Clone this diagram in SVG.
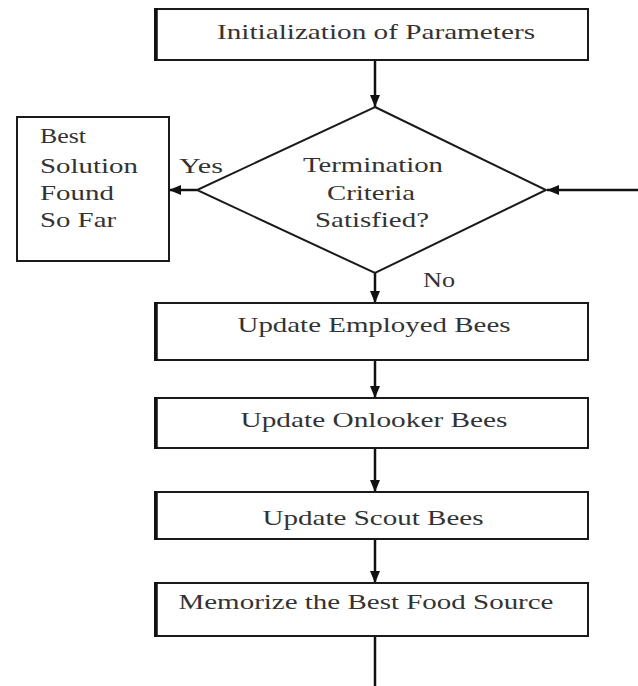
<svg xmlns="http://www.w3.org/2000/svg" width="638" height="686" viewBox="0 0 638 686">
<style>
.box{fill:#fff;stroke:#1a1a1a;stroke-width:2}
.edge{stroke:#111;stroke-width:3.5}
.t{font-family:"Liberation Serif","Times New Roman",serif;fill:#333;font-size:22px}
.c{text-anchor:middle}
.ln{stroke:#111;stroke-width:2.5;fill:none}
</style>
<defs>
<marker id="ah" viewBox="0 0 12 10" refX="12" refY="5" markerWidth="12" markerHeight="10" markerUnits="userSpaceOnUse" orient="auto">
<path d="M0,0 L12,5 L0,10 z" fill="#111"/>
</marker>
</defs>
<rect width="638" height="686" fill="#fff"/>
<g id="connectors">
<line class="ln" x1="375" y1="60" x2="375" y2="107" marker-end="url(#ah)"/>
<line class="ln" x1="197" y1="190" x2="169" y2="190" marker-end="url(#ah)"/>
<line class="ln" x1="638" y1="190" x2="547" y2="190" marker-end="url(#ah)"/>
<line class="ln" x1="375" y1="273" x2="375" y2="303" marker-end="url(#ah)"/>
<line class="ln" x1="375" y1="360" x2="375" y2="398" marker-end="url(#ah)"/>
<line class="ln" x1="375" y1="448" x2="375" y2="492" marker-end="url(#ah)"/>
<line class="ln" x1="375" y1="539" x2="375" y2="583" marker-end="url(#ah)"/>
<line class="ln" x1="375" y1="636" x2="375" y2="686"/>
<text class="t" x="179" y="173" textLength="44" lengthAdjust="spacingAndGlyphs">Yes</text>
<text class="t" x="423" y="287" textLength="32" lengthAdjust="spacingAndGlyphs">No</text>
</g>
<g id="init">
<rect class="box" x="155" y="9" width="433" height="51"/>
<line class="edge" x1="156" y1="8" x2="156" y2="61"/>
<text class="t c" x="376" y="39" textLength="318" lengthAdjust="spacingAndGlyphs">Initialization of Parameters</text>
</g>
<g id="decision">
<polygon class="box" points="375,107 546,190 375,273 197,190"/>
<text class="t c" x="373" y="172" textLength="140" lengthAdjust="spacingAndGlyphs">Termination</text>
<text class="t c" x="371" y="200" textLength="88" lengthAdjust="spacingAndGlyphs">Criteria</text>
<text class="t c" x="372" y="227" textLength="114" lengthAdjust="spacingAndGlyphs">Satisfied?</text>
</g>
<g id="best">
<rect class="box" x="17" y="117" width="152" height="144"/>
<text class="t" x="40" y="143" textLength="46" lengthAdjust="spacingAndGlyphs">Best</text>
<text class="t" x="40" y="173" textLength="98" lengthAdjust="spacingAndGlyphs">Solution</text>
<text class="t" x="40" y="200" textLength="74" lengthAdjust="spacingAndGlyphs">Found</text>
<text class="t" x="40" y="227" textLength="76" lengthAdjust="spacingAndGlyphs">So Far</text>
</g>
<g id="employed">
<rect class="box" x="155" y="303" width="433" height="57"/>
<line class="edge" x1="156" y1="302" x2="156" y2="361"/>
<text class="t c" x="374" y="332" textLength="273" lengthAdjust="spacingAndGlyphs">Update Employed Bees</text>
</g>
<g id="onlooker">
<rect class="box" x="155" y="398" width="433" height="50"/>
<line class="edge" x1="156" y1="397" x2="156" y2="449"/>
<text class="t c" x="374" y="427" textLength="267" lengthAdjust="spacingAndGlyphs">Update Onlooker Bees</text>
</g>
<g id="scout">
<rect class="box" x="155" y="492" width="433" height="47"/>
<line class="edge" x1="156" y1="491" x2="156" y2="540"/>
<text class="t c" x="373" y="525" textLength="221" lengthAdjust="spacingAndGlyphs">Update Scout Bees</text>
</g>
<g id="memorize">
<rect class="box" x="155" y="583" width="433" height="53"/>
<line class="edge" x1="156" y1="582" x2="156" y2="637"/>
<text class="t c" x="366" y="609" textLength="375" lengthAdjust="spacingAndGlyphs">Memorize the Best Food Source</text>
</g>
</svg>
